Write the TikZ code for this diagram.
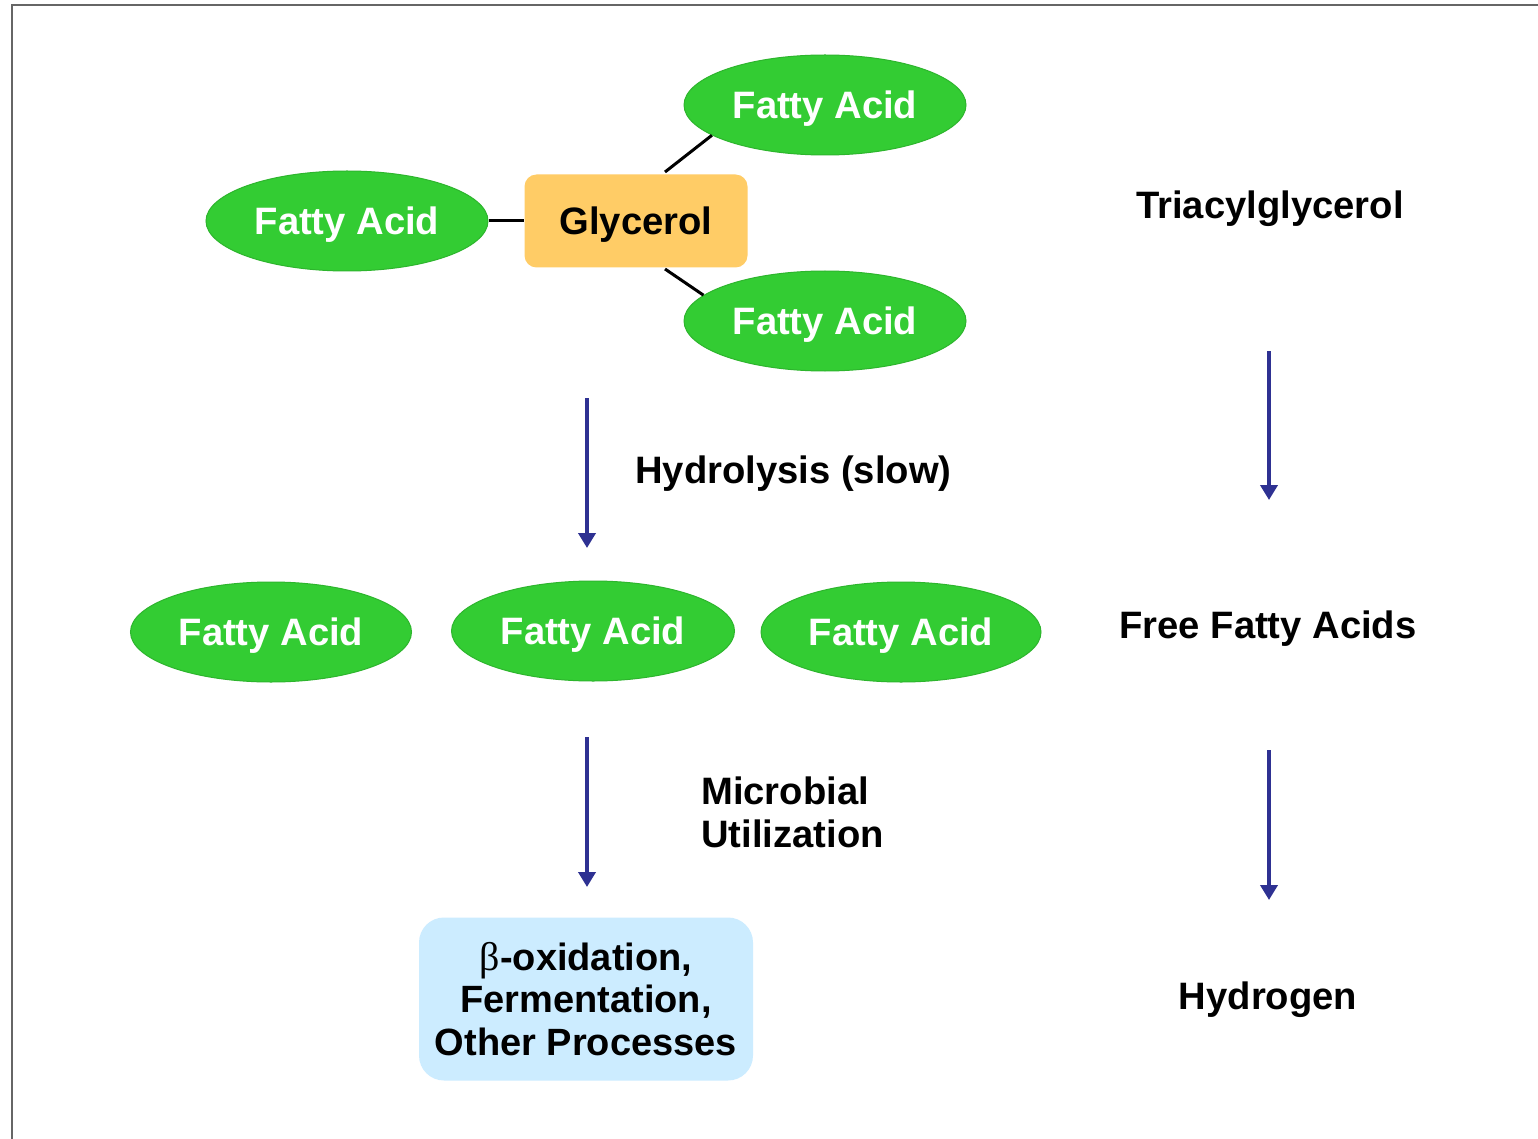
\documentclass[tikz,border=0pt]{standalone}
\usepackage{fontspec}
\setmainfont{Liberation Sans}
\newfontfamily\greekserif{Liberation Serif}
\usetikzlibrary{shapes.geometric,arrows.meta}
\definecolor{fagreen}{HTML}{33CC33}
\definecolor{faedge}{HTML}{2DB52D}
\definecolor{glyc}{HTML}{FFCC66}
\definecolor{procblue}{HTML}{CCECFF}
\definecolor{arrowblue}{HTML}{2E3192}
\definecolor{framegray}{HTML}{666666}
\begin{document}
\begin{tikzpicture}[x=1pt,y=-1pt,
  txt/.style={font=\fontsize{38.2}{45}\selectfont\bfseries},
  fa/.style={ellipse,fill=fagreen,draw=faedge,line width=1pt,minimum width=282pt,minimum height=100pt,inner sep=0pt,text=white,txt,text depth=0pt},
  bond/.style={line width=3pt,black},
  flow/.style={line width=4.5pt,arrowblue,-{Triangle[width=17pt,length=15pt]}},
  lbl/.style={txt,inner sep=0pt,text depth=0pt}]
\useasboundingbox (0,0) rectangle (1538,1139);
\fill[white] (0,0) rectangle (1538,1139);
\draw[framegray,line width=2.5pt] (1538,5) -- (12,5) -- (12,1139);

% triacylglycerol
\node[fill=glyc,rounded corners=12pt,minimum width=223pt,minimum height=93pt,inner sep=0pt,txt,text depth=0pt] (gly) at (636,221) {Glycerol};
\node[fa] (fatop) at (825,105) {Fatty Acid};
\node[fa] (faleft) at (347,221) {Fatty Acid};
\node[fa] (fabot) at (825,321) {Fatty Acid};
\coordinate (gtop) at (665,172);
\coordinate (gbot) at (665,269);
\draw[bond] (faleft.east) -- (gly.west);
\draw[bond] (gtop) -- (fatop.195);
\draw[bond] (gbot) -- (fabot.168);
\node[lbl] (tag) at (1270,205) {Triacylglycerol};

% hydrolysis
\coordinate (h1s) at (587,398);
\coordinate (h1e) at (587,548);
\draw[flow] (h1s) -- (h1e);
\node[lbl,anchor=west] (hyd) at (635,470) {Hydrolysis (slow)};
\coordinate (r1s) at (1269,351);
\coordinate (r1e) at (1269,500);
\draw[flow] (r1s) -- (r1e);

% free fatty acids
\node[fa,minimum width=281pt] (ff1) at (271,632) {Fatty Acid};
\node[fa,minimum width=283pt] (ff2) at (593,631) {Fatty Acid};
\node[fa,minimum width=280pt] (ff3) at (901,632) {Fatty Acid};
\node[lbl] (ffa) at (1268,625) {Free Fatty Acids};

% microbial utilization
\coordinate (m1s) at (587,737);
\coordinate (m1e) at (587,887);
\draw[flow] (m1s) -- (m1e);
\node[inner sep=0pt,anchor=west,align=left,font=\fontsize{38.2}{43}\selectfont\bfseries] (mic) at (701,812) {Microbial\\Utilization};
\coordinate (r2s) at (1269,750);
\coordinate (r2e) at (1269,900);
\draw[flow] (r2s) -- (r2e);

% processes
\node[fill=procblue,rounded corners=25pt,minimum width=334pt,minimum height=163pt,inner sep=0pt,align=center,font=\fontsize{38}{42.5}\selectfont\bfseries] (proc) at (586,999) {{\greekserif\mdseries\fontsize{40}{42.5}\selectfont β}-oxidation,\\Fermentation,\\Other Processes};
\node[lbl] (hyd2) at (1268,996) {Hydrogen};
\end{tikzpicture}
\end{document}
